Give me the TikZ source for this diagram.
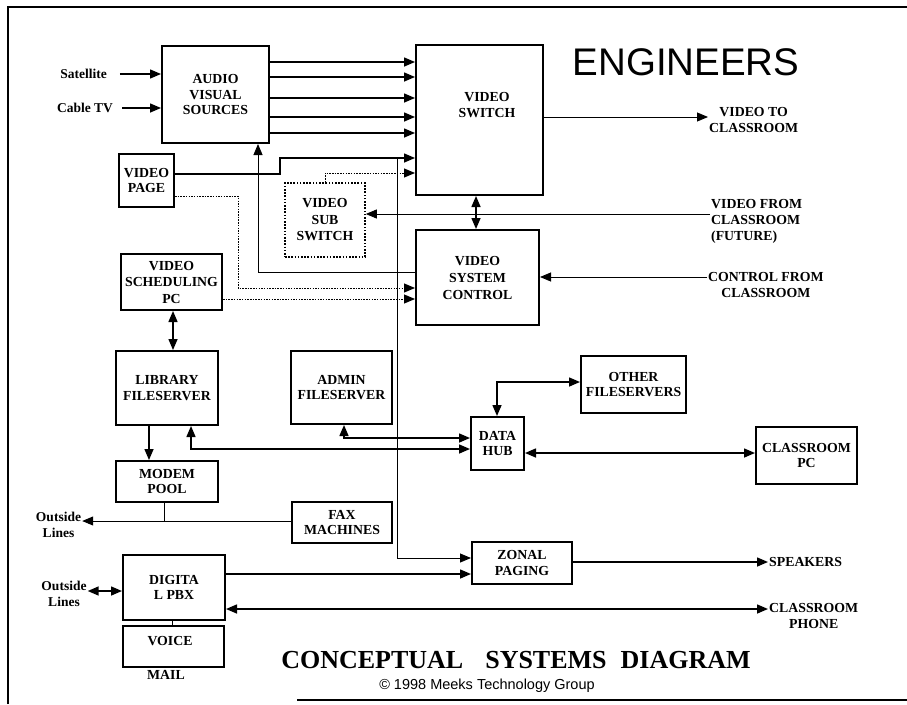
\documentclass[tikz,border=0pt]{standalone}
\usepackage{fontspec}
\setmainfont{Liberation Serif}
\newfontfamily\headfont{Liberation Sans}
\usetikzlibrary{arrows.meta, positioning}

\begin{document}
\begin{tikzpicture}[x=1pt, y=-1pt, >={Triangle[length=11pt, width=9pt]},
    box/.style={draw, line width=2pt, align=center, inner sep=1pt, font=\bfseries\fontsize{13.8}{15.5}\selectfont},
    lbl/.style={align=center, inner sep=1pt, font=\bfseries\fontsize{13.8}{15.5}\selectfont},
    small/.style={align=center, inner sep=1pt, font=\bfseries\fontsize{13.5}{16.5}\selectfont},
    wire/.style={line width=1.5pt},
    thinwire/.style={line width=0.9pt},
    dotwire/.style={line width=1pt, dash pattern=on 1.5pt off 1.2pt}]
    \useasboundingbox (0,0) rectangle (907,704);

    % Frame
    \draw[line width=1.6pt] (8,704) -- (8,7) -- (907,7);
    \draw[line width=1.3pt] (297,700) -- (907,700);

    % Define the boxes
    \node[box, minimum width=107pt, minimum height=97pt] (av) at (215.5,94.5) {AUDIO\\VISUAL\\SOURCES};
    \node[box, minimum width=127pt, minimum height=150pt] (vswitch) at (479.5,120) {};
    \node[lbl] (vswitchtxt) at (487,105) {VIDEO\\SWITCH};
    \node[box, minimum width=55pt, minimum height=53pt] (vpage) at (146.5,180.5) {VIDEO\\PAGE};
    \node[box, line width=1.6pt, dash pattern=on 1.6pt off 1.6pt, minimum width=80pt, minimum height=74pt, font=\bfseries\fontsize{13.8}{16.5}\selectfont] (subsw) at (325,220) {VIDEO\\SUB\\SWITCH};
    \node[box, minimum width=123pt, minimum height=95pt, font=\bfseries\fontsize{13.8}{17}\selectfont] (vctrl) at (477.5,277.5) {VIDEO\\SYSTEM\\CONTROL};
    \node[box, minimum width=101pt, minimum height=56pt, font=\bfseries\fontsize{13.8}{16.5}\selectfont] (sched) at (171.5,282) {VIDEO\\SCHEDULING\\PC};
    \node[box, minimum width=102pt, minimum height=74pt] (lib) at (167,388) {LIBRARY\\FILESERVER};
    \node[box, minimum width=101pt, minimum height=73pt] (admin) at (341.5,387.5) {ADMIN\\FILESERVER};
    \node[box, minimum width=105pt, minimum height=57pt] (other) at (633.5,384.5) {OTHER\\FILESERVERS};
    \node[box, minimum width=53pt, minimum height=53pt] (hub) at (497.5,443.5) {DATA\\HUB};
    \node[box, minimum width=101pt, minimum height=57pt] (cpc) at (806.5,455.5) {CLASSROOM\\PC};
    \node[box, minimum width=102pt, minimum height=41pt] (modem) at (167,481.5) {MODEM\\POOL};
    \node[box, minimum width=100pt, minimum height=41pt] (fax) at (342,522.5) {FAX\\MACHINES};
    \node[box, minimum width=102pt, minimum height=65pt] (pbx) at (174,587.5) {DIGITA\\L PBX};
    \node[box, minimum width=101pt, minimum height=41pt] (vmail) at (173.5,646.5) {};
    \node[lbl] (vmailtxt) at (170,641) {VOICE};
    \node[lbl] (mailtxt) at (166,675) {MAIL};
    \node[box, minimum width=100pt, minimum height=42pt] (zonal) at (522,563) {ZONAL\\PAGING};

    % Outside labels
    \node[small] (sat) at (83.5,74) {Satellite};
    \node[small] (cabletv) at (85,108) {Cable TV};
    \node[small] (outside1) at (58.5,525) {Outside\\Lines};
    \node[small] (outside2) at (64,594) {Outside\\Lines};
    \node[lbl, anchor=west] (vtocls) at (708,120) {VIDEO TO\\CLASSROOM};
    \node[lbl, anchor=west, align=left, font=\bfseries\fontsize{13.8}{16}\selectfont] (vfromcls) at (710,221) {VIDEO FROM\\CLASSROOM\\(FUTURE)};
    \node[lbl, anchor=west] (ctrlfrom) at (707,285) {CONTROL FROM\\CLASSROOM};
    \node[lbl, anchor=west] (speakers) at (768,562) {SPEAKERS};
    \node[lbl, anchor=west] (cphone) at (768,616) {CLASSROOM\\PHONE};

    % Titles
    \node[font=\headfont\fontsize{38.5}{42}\selectfont] (eng) at (686,62) {ENGINEERS};
    \node[font=\bfseries\fontsize{26}{28}\selectfont] (title) at (516,660) {CONCEPTUAL\hspace{22pt}SYSTEMS\hspace{14pt}DIAGRAM};
    \node[font=\headfont\fontsize{14.5}{16}\selectfont] (copyr) at (487,686) {\textcopyright{} 1998 Meeks Technology Group};

    % Video sources into the switch
    \draw[wire, ->] ([xshift=12pt]sat.east) -- (av.west |- sat);
    \draw[wire, ->] ([xshift=8pt]cabletv.east) -- (av.west |- cabletv);
    \foreach \yy in {62,77,98,117,133}
        \draw[wire, ->] (av.east |- 0,\yy) -- (vswitch.west |- 0,\yy);
    \draw[wire, ->] (vpage.east |- 0,174) -- (280,174) -- (280,158) -- (vswitch.west |- 0,158);
    \coordinate (pagejn) at (397,158);
    \draw[thinwire, ->] (pagejn) |- (zonal.west |- 0,558);
    \draw[dotwire, ->] (subsw.north) |- (vswitch.west |- 0,173);
    \draw[thinwire, ->] (vfromcls.west |- 0,214) -- (subsw.east |- 0,214);
    \draw[wire, <->] (vswitch.south -| 476,0) -- (vctrl.north -| 476,0);
    \draw[thinwire, ->] (vswitch.east |- 0,117) -- (vtocls.west |- 0,117);

    % Control lines
    \draw[thinwire, ->] (ctrlfrom.west |- 0,277) -- (vctrl.east |- 0,277);
    \draw[thinwire, ->] (vctrl.west |- 0,272) -| (av.south -| 258,0);
    \draw[dotwire, ->] (vpage.east |- 0,196) -| (238,288) -- (vctrl.west |- 0,288);
    \draw[dotwire, ->] (sched.east |- 0,299) -- (vctrl.west |- 0,299);

    % Data network
    \draw[wire, <->] (sched.south -| 173,0) -- (lib.north -| 173,0);
    \draw[wire, ->] (lib.south -| 149,0) -- (modem.north -| 149,0);
    \draw[wire, <->] (lib.south -| 191,0) |- (hub.west |- 0,449);
    \draw[wire, <->] (admin.south -| 344,0) |- (hub.west |- 0,438);
    \draw[wire, <->] (hub.north -| 497,0) |- (other.west |- 0,382);
    \draw[wire, <->] (hub.east |- 0,453) -- (cpc.west |- 0,453);

    % Phone lines
    \draw[thinwire] (modem.south -| 164,0) -- (164,521);
    \draw[thinwire, ->] (fax.west |- 0,521) -- (outside1.east |- 0,521);
    \draw[wire, <->] (outside2.east |- 0,591) -- (pbx.west |- 0,591);
    \draw[wire, ->] (pbx.east |- 0,574) -- (zonal.west |- 0,574);
    \draw[wire, <->] (pbx.east |- 0,609) -- (cphone.west |- 0,609);
    \draw[wire, ->] (zonal.east |- 0,562) -- (speakers.west |- 0,562);
    \draw[thinwire] (pbx.south -| 172,0) -- (vmail.north -| 172,0);
\end{tikzpicture}
\end{document}
